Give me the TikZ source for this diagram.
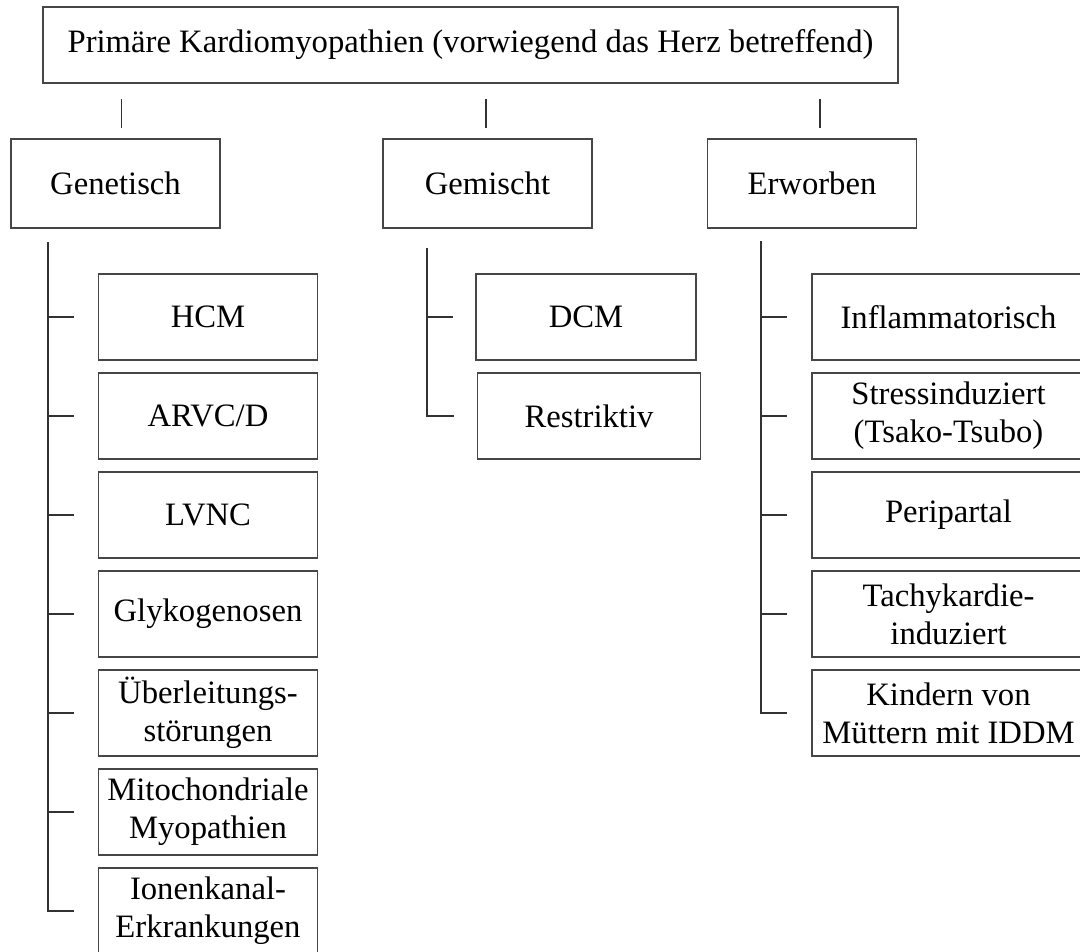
\documentclass[tikz,border=0pt]{standalone}
\usepackage{fontspec}
\setmainfont{Liberation Serif}
\usetikzlibrary{positioning, calc}
\definecolor{frameColor}{RGB}{70, 70, 70}
\definecolor{lineColor}{RGB}{50, 50, 50}
\tikzstyle{basebox} = [rectangle, draw=frameColor, line width=1.1pt, outer sep=0pt, text centered, align=center, inner sep=2pt, font=\fontsize{24.5}{28.5}\selectfont]
\tikzstyle{head} = [basebox, minimum width=641pt, minimum height=57pt]
\tikzstyle{group} = [basebox, minimum width=157pt, minimum height=66.75pt]
\tikzstyle{item} = [basebox, minimum width=164pt, minimum height=64.5pt]
\tikzstyle{wideitem} = [basebox, minimum width=205pt, minimum height=64.5pt]
\tikzstyle{link} = [draw=lineColor, line width=1.1pt]
\begin{document}
\begin{tikzpicture}[x=0.75pt, y=-0.75pt, node distance=9.75pt]
\useasboundingbox (0,0) rectangle (1080,951);
\clip (0,0) rectangle (1080,951);

% oberste Ebene
\node (top) [head] at (470.5,45) {Primäre Kardiomyopathien (vorwiegend das Herz betreffend)};

% zweite Ebene
\node (gen) [group] at (115.5,183.5) {Genetisch};
\node (mix) [group] at (487.5,183.5) {Gemischt};
\node (acq) [group] at (812,183.5) {Erworben};

\draw[link] ([shift={(6,-11)}]gen.north) -- ++(0,-29);
\draw[link] ([shift={(-1.5,-11)}]mix.north) -- ++(0,-29);
\draw[link] ([shift={(8,-11)}]acq.north) -- ++(0,-29);

% genetisch
\node (hcm) [item] at (208,317) {HCM};
\node (arvc) [item, below=of hcm] {ARVC/D};
\node (lvnc) [item, below=of arvc] {LVNC};
\node (glyko) [item, below=of lvnc] {Glykogenosen};
\node (ueber) [item, below=of glyko] {Überleitungs-\\störungen};
\node (mito) [item, below=of ueber] {Mitochondriale\\Myopathien};
\node (ionen) [item, below=of mito] {Ionenkanal-\\Erkrankungen};

\coordinate (genroot) at (48,242);
\foreach \n in {hcm,arvc,lvnc,glyko,ueber,mito}
  \draw[link] (genroot |- \n.west) -- ($(\n.west)+(-25,0)$);
\draw[link] (genroot) |- ($(ionen.west)+(-25,0)$);

% gemischt
\node (dcm) [item, minimum width=165pt] at (586,317) {DCM};
\node (restr) [item, minimum width=167pt, below=of dcm, xshift=2.25pt] {Restriktiv};

\coordinate (mixroot) at (427,248);
\draw[link] (mixroot |- dcm.west) -- ($(dcm.west)+(-23,0)$);
\draw[link] (mixroot) |- ($(restr.west)+(-24,0)$);

% erworben
\node (infl) [wideitem] at (948.5,317) {Inflammatorisch};
\node (stress) [wideitem, below=of infl] {Stressinduziert\\(Tsako-Tsubo)};
\node (peri) [wideitem, below=of stress] {Peripartal};
\node (tachy) [wideitem, below=of peri] {Tachykardie-\\induziert};
\node (kind) [wideitem, below=of tachy] {Kindern von\\Müttern mit IDDM};

\coordinate (acqroot) at (761,241);
\foreach \n in {infl,stress,peri,tachy}
  \draw[link] (acqroot |- \n.west) -- ($(\n.west)+(-25,0)$);
\draw[link] (acqroot) |- ($(kind.west)+(-25,0)$);
\end{tikzpicture}
\end{document}
